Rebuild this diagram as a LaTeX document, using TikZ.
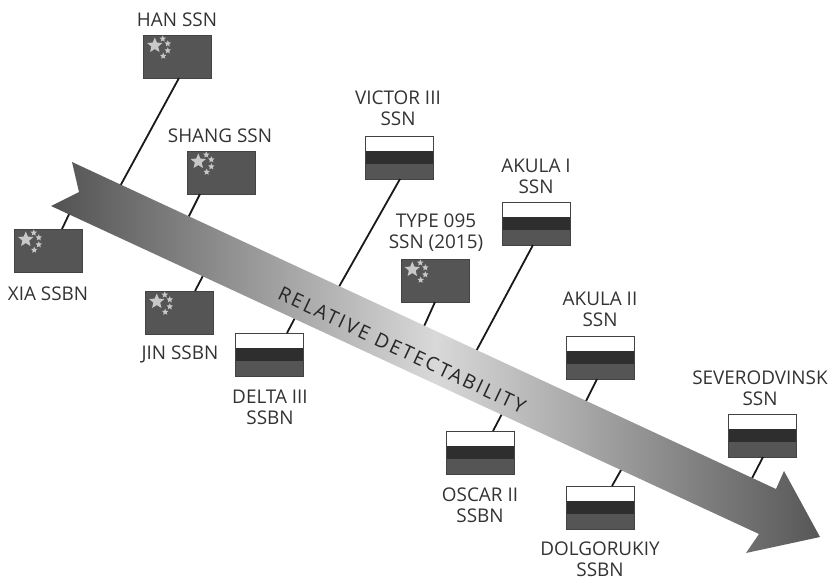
\documentclass[tikz,border=0pt]{standalone}
\usepackage{fontspec}
\setmainfont{Open Sans}
\newfontfamily\spaced[LetterSpace=12]{Open Sans}
\usetikzlibrary{calc}
\definecolor{ink}{HTML}{333333}
\definecolor{flagred}{HTML}{555555}
\definecolor{flagdark}{HTML}{2E2E2E}
\definecolor{flagstar}{HTML}{C8C8C8}
\tikzset{
  x=1pt,y=-1pt,
  flagbox/.style={minimum width=68pt,minimum height=43pt,inner sep=0pt,outer sep=0pt,anchor=north west},
  cnflag/.style={flagbox,fill=flagred,draw=flagred!80!black,line width=0.8pt},
  ruflag/.style={flagbox,draw=flagdark!90!white,line width=0.8pt},
  conn/.style={draw=black!90,line width=1.8pt},
  lbl/.style={text=ink,font=\fontsize{18.9}{21}\selectfont,align=center,inner sep=0pt},
}
\newcommand{\fivestar}[3]{%
  \fill[flagstar] ({#1+#3*sin(0)},{#2-#3*cos(0)})
    \foreach \k in {1,...,9}{ -- ({#1+#3*(1-0.55*mod(\k,2))*sin(36*\k)},{#2-#3*(1-0.55*mod(\k,2))*cos(36*\k)}) } -- cycle;}
\newcommand{\cnflagat}[3]{%
  \node[cnflag] (#1) at (#2,#3) {};
  \begin{scope}[shift={(#2,#3)}]
    \fivestar{11.3}{10.5}{8}
    \fivestar{19.3}{3.8}{3.4}
    \fivestar{24.3}{8.6}{3.4}
    \fivestar{24.3}{15.6}{3.4}
    \fivestar{19.7}{21}{3.4}
  \end{scope}}
\newcommand{\ruflagat}[3]{%
  \begin{scope}[shift={(#2,#3)}]
    \fill[white] (0,0) rectangle (68,15);
    \fill[flagdark] (0,15) rectangle (68,28);
    \fill[flagred] (0,28) rectangle (68,43);
  \end{scope}
  \node[ruflag] (#1) at (#2,#3) {};}
\begin{document}
\begin{tikzpicture}
\useasboundingbox (0,0) rectangle (831,579);
% flags
\cnflagat{han}{143.5}{35}
\cnflagat{shang}{187}{151}
\cnflagat{xia}{14.5}{229}
\cnflagat{jin}{145.5}{291}
\cnflagat{type}{401}{259}
\ruflagat{delta}{235.5}{333}
\ruflagat{victor}{365}{136}
\ruflagat{akulaa}{502.5}{202}
\ruflagat{akulab}{566}{336}
\ruflagat{oscar}{446}{431}
\ruflagat{dolg}{566}{486}
\ruflagat{sev}{728}{414}
% connector ends, hidden under the arrow
\coordinate (hanE) at (118,190);
\coordinate (shangE) at (185,224);
\coordinate (xiaE) at (72,208);
\coordinate (jinE) at (206,270);
\coordinate (typeE) at (421,333);
\coordinate (deltaE) at (297,314);
\coordinate (victorE) at (336,292);
\coordinate (akulaaE) at (473,357);
\coordinate (akulabE) at (582,409);
\coordinate (oscarE) at (504,410);
\coordinate (dolgE) at (625,463);
\coordinate (sevE) at (748,486);
\draw[conn] ([xshift=1.5]han.south) -- (hanE);
\draw[conn] ([xshift=-21]shang.south) -- (shangE);
\draw[conn] ([xshift=13.5]xia.north) -- (xiaE);
\draw[conn] ([xshift=15.5]jin.north) -- (jinE);
\draw[conn] ([xshift=0]type.south) -- (typeE);
\draw[conn] ([xshift=17.5]delta.north) -- (deltaE);
\draw[conn] ([xshift=1]victor.south) -- (victorE);
\draw[conn] ([xshift=-3.5]akulaa.south) -- (akulaaE);
\draw[conn] ([xshift=-3]akulab.south) -- (akulabE);
\draw[conn] ([xshift=13]oscar.north) -- (oscarE);
\draw[conn] ([xshift=12]dolg.north) -- (dolgE);
\draw[conn] ([xshift=1]sev.south) -- (sevE);
% arrow
\path[left color=black!68,right color=black!66,middle color=black!15]
  (72,162) -- (776,489) -- (784,471) -- (820,537) -- (746,553) -- (759,534)
  -- (51,206) -- (79,192) -- cycle;
\node[rotate=-25.2,text=black!85,font=\spaced\fontsize{19.5}{22}\selectfont,inner sep=0pt] (axis) at (402,350) {RELATIVE DETECTABILITY};
% labels
\node[lbl] (lhan) at (177,19.5) {HAN SSN};
\node[lbl] (lshang) at (220,135.5) {SHANG SSN};
\node[lbl] (lxia) at (48,293.5) {XIA SSBN};
\node[lbl] (ljin) at (180,354.5) {JIN SSBN};
\node[lbl] (ldelta) at (270,407) {DELTA III\\SSBN};
\node[lbl] (lvictor) at (398,108) {VICTOR III\\SSN};
\node[lbl] (ltype) at (436,233) {TYPE 095\\SSN (2015)};
\node[lbl] (lakulaa) at (536,176) {AKULA I\\SSN};
\node[lbl] (lakulab) at (600,309) {AKULA II\\SSN};
\node[lbl] (loscar) at (480,505) {OSCAR II\\SSBN};
\node[lbl] (ldolg) at (600,559) {DOLGORUKIY\\SSBN};
\node[lbl] (lsev) at (760,388) {SEVERODVINSK\\SSN};
\end{tikzpicture}
\end{document}
